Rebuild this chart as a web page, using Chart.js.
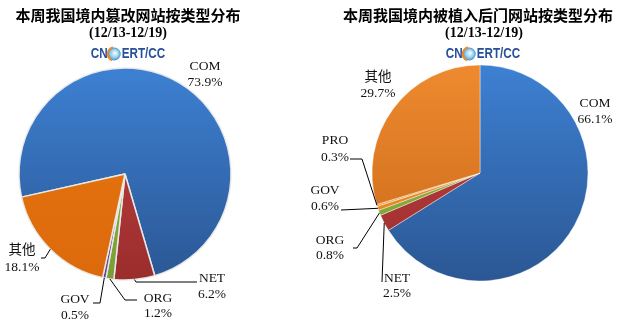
<!DOCTYPE html>
<html>
<head>
<meta charset="utf-8">
<script src="https://cdn.jsdelivr.net/npm/chart.js@4.4.1/dist/chart.umd.min.js"></script>
<style>
  html, body { margin: 0; padding: 0; background: #fff; }
  #wrap { position: relative; width: 619px; height: 327px; overflow: hidden; }
  #tamper { position: absolute; left: 0; top: 0; }
  #backdoor { position: absolute; left: 310px; top: 0; }
</style>
</head>
<body>
<div id="wrap">
  <canvas id="tamper" width="310" height="327"></canvas>
  <canvas id="backdoor" width="309" height="327"></canvas>
</div>
<script>
// 本周篡改网站类型 (%)
const tamperLabels = ['COM', 'NET', 'ORG', 'GOV', '其他'];
const tamperValues = [73.9, 6.2, 1.2, 0.5, 18.1];

// 本周被植入后门网站类型 (%)
const backdoorLabels = ['COM', 'NET', 'ORG', 'GOV', 'PRO', '其他'];
const backdoorValues = [66.1, 2.5, 0.8, 0.6, 0.3, 29.7];

const period = '(12/13-12/19)';

// fill gradients, top -> bottom
const FILLS = {
  COM:  ['#3d80d2', '#2b5794'],
  NET:  ['#c44242', '#9b2d2d'],
  ORG:  ['#97bd46', '#7a9c36'],
  GOV:  ['#7452a8', '#5e3f8f'],
  GOV2: ['#f59a30', '#e07d18'],
  PRO:  ['#f7b56b', '#e89a48'],
  OTH1: ['#ea760f', '#dc6a0c'],
  OTH2: ['#ee8a2e', '#c9681a']
};

const LABEL_FONT = '13.5px "Liberation Serif", "Noto Sans CJK SC", serif';

function gradientFill(keys) {
  return (ctx) => {
    const chart = ctx.chart;
    const area = chart.chartArea;
    const pair = FILLS[keys[ctx.dataIndex]];
    if (!area || !isFinite(area.top) || !isFinite(area.bottom)) return pair[0];
    const cy = (area.top + area.bottom) / 2;
    const r = typeof chart.options.radius === 'number' ? chart.options.radius : (area.bottom - area.top) / 2;
    const g = chart.ctx.createLinearGradient(0, cy - r, 0, cy + r);
    g.addColorStop(0, pair[0]);
    g.addColorStop(1, pair[1]);
    return g;
  };
}

// title, period and CNCERT/CC mark above each pie
const headerPlugin = {
  id: 'header',
  afterDraw(chart, args, opts) {
    const ctx = chart.ctx;
    ctx.save();
    ctx.fillStyle = '#000';
    ctx.textAlign = 'center';
    ctx.textBaseline = 'middle';
    ctx.font = 'bold 15px "Noto Sans CJK SC", sans-serif';
    ctx.fillText(opts.title, opts.titleX, 15);
    ctx.font = 'bold 14px "Liberation Serif", serif';
    ctx.fillText(period, opts.subX, 33);

    // CNCERT/CC mark
    const sx = 0.78;
    ctx.font = 'bold 15px "Liberation Sans", sans-serif';
    const w1 = ctx.measureText('CN').width * sx;
    const w2 = ctx.measureText('ERT/CC').width * sx;
    const gd = 13;
    const total = w1 + gd + 1 + w2;
    let x = opts.logoX - total / 2;
    const y = 54;
    ctx.fillStyle = '#27509b';
    ctx.textAlign = 'left';
    ctx.save();
    ctx.translate(x, y);
    ctx.scale(sx, 1);
    ctx.fillText('CN', 0, 0);
    ctx.restore();
    x += w1;
    const gx = x + gd / 2, gy = y;
    const rg = ctx.createRadialGradient(gx + 1, gy - 1, 1, gx, gy, gd / 2);
    rg.addColorStop(0, '#e6f4fb');
    rg.addColorStop(0.6, '#8ccbec');
    rg.addColorStop(1, '#3d8fd0');
    ctx.fillStyle = rg;
    ctx.beginPath();
    ctx.arc(gx, gy, gd / 2, 0, Math.PI * 2);
    ctx.fill();
    ctx.strokeStyle = '#f08a24';
    ctx.lineWidth = 2;
    ctx.beginPath();
    ctx.arc(gx, gy, gd / 2, Math.PI * 0.6, Math.PI * 1.45);
    ctx.stroke();
    x += gd + 1;
    ctx.fillStyle = '#27509b';
    ctx.save();
    ctx.translate(x, y);
    ctx.scale(sx, 1);
    ctx.fillText('ERT/CC', 0, 0);
    ctx.restore();
    ctx.restore();
  }
};

// category + percentage labels with leader lines from the slice rim
const sliceLabelPlugin = {
  id: 'sliceLabels',
  afterDraw(chart, args, opts) {
    const ctx = chart.ctx;
    const meta = chart.getDatasetMeta(0);
    const labels = chart.data.labels;
    const values = chart.data.datasets[0].data;
    ctx.save();
    ctx.strokeStyle = '#000';
    ctx.lineWidth = 1;
    meta.data.forEach((arc, i) => {
      const spot = opts.spots[i];
      if (!spot) return;
      if (spot.leader) {
        const mid = (arc.startAngle + arc.endAngle) / 2;
        const ax = arc.x + Math.cos(mid) * arc.outerRadius;
        const ay = arc.y + Math.sin(mid) * arc.outerRadius;
        ctx.beginPath();
        ctx.moveTo(ax, ay);
        spot.leader.forEach(([lx, ly]) => ctx.lineTo(lx, ly));
        ctx.stroke();
      }
      ctx.fillStyle = '#111';
      ctx.textAlign = 'center';
      ctx.textBaseline = 'middle';
      ctx.font = LABEL_FONT;
      ctx.fillText(labels[i], spot.x, spot.y1);
      ctx.fillText(values[i].toFixed(1) + '%', spot.x, spot.y2);
    });
    ctx.restore();
  }
};

function makePie(id, labels, values, fillKeys, cfg) {
  return new Chart(document.getElementById(id), {
    type: 'pie',
    data: {
      labels,
      datasets: [{
        data: values,
        backgroundColor: gradientFill(fillKeys),
        borderColor: cfg.border,
        borderWidth: cfg.borderWidth
      }]
    },
    options: {
      responsive: false,
      animation: false,
      rotation: cfg.rotation,
      radius: cfg.radius,
      layout: { padding: cfg.padding },
      plugins: {
        legend: { display: false },
        tooltip: { enabled: false },
        header: cfg.header,
        sliceLabels: { spots: cfg.spots }
      }
    },
    plugins: [headerPlugin, sliceLabelPlugin]
  });
}

makePie('tamper', tamperLabels, tamperValues, ['COM', 'NET', 'ORG', 'GOV', 'OTH1'], {
  rotation: 257.4,
  radius: 106,
  padding: { left: 0, right: 60, top: 30, bottom: 9 },
  border: 'rgba(235,235,235,0.95)',
  borderWidth: 1.5,
  header: { title: '本周我国境内篡改网站按类型分布', titleX: 128, subX: 128, logoX: 128 },
  spots: [
    { x: 205, y1: 66, y2: 82 },
    { x: 212, y1: 278, y2: 294, leader: [[136, 282], [197, 282]] },
    { x: 158, y1: 298, y2: 313, leader: [[125, 300], [137, 300]] },
    { x: 75, y1: 299, y2: 315, leader: [[100, 303], [93, 303]] },
    { x: 22, y1: 250, y2: 267, leader: [[45, 258], [41, 258]] }
  ]
});

makePie('backdoor', backdoorLabels, backdoorValues, ['COM', 'NET', 'ORG', 'GOV2', 'PRO', 'OTH2'], {
  rotation: 0,
  radius: 108,
  padding: { left: 31, right: 0, top: 30, bottom: 11 },
  border: 'rgba(255,255,255,0.5)',
  borderWidth: 0.8,
  header: { title: '本周我国境内被植入后门网站按类型分布', titleX: 168, subX: 174, logoX: 173 },
  spots: [
    { x: 285, y1: 103, y2: 119 },
    { x: 87, y1: 278, y2: 293, leader: [[72, 282]] },
    { x: 20, y1: 240, y2: 255, leader: [[47, 248], [43, 248]] },
    { x: 15, y1: 190, y2: 206, leader: [[31, 210]] },
    { x: 25, y1: 140, y2: 157, leader: [[52, 159], [40, 159]] },
    { x: 68, y1: 77, y2: 93 }
  ]
});
</script>
</body>
</html>
